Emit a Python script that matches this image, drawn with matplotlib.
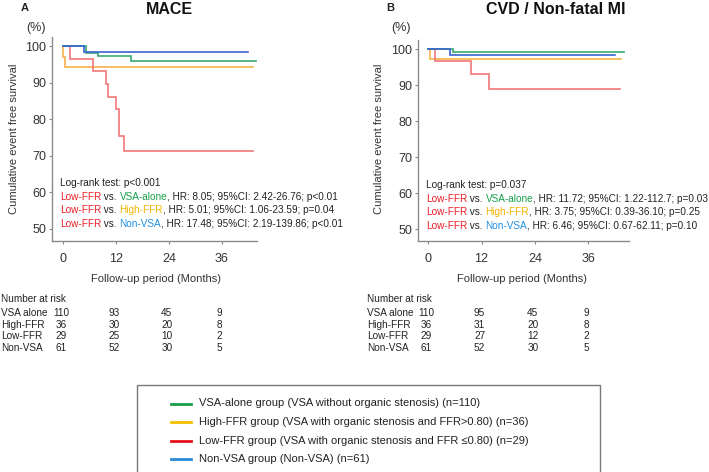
import matplotlib
matplotlib.use("Agg")
import matplotlib.pyplot as plt
import matplotlib.transforms as mtransforms
from matplotlib.patches import Rectangle
from matplotlib.lines import Line2D

plt.rcParams['font.family'] = ['Liberation Sans', 'DejaVu Sans']

# ---------------- data ----------------
groups = ["VSA-alone", "High-FFR", "Low-FFR", "Non-VSA"]
risk_labels = ["VSA alone", "High-FFR", "Low-FFR", "Non-VSA"]
risk_times = [0, 12, 24, 36]
x_ticks = [0, 12, 24, 36]
y_ticks = [50, 60, 70, 80, 90, 100]

# Panel A: MACE (time in months, survival in %)
mace_t_vsa = [0, 5.2, 7.9, 15.5, 43.8]
mace_s_vsa = [100, 98.2, 97.3, 95.9, 95.9]
mace_t_high = [0, 0.1, 0.4, 43.0]
mace_s_high = [100, 97.1, 94.4, 94.4]
mace_t_low = [0, 1.6, 6.7, 9.7, 10.1, 12.1, 12.7, 13.8, 43.0]
mace_s_low = [100, 96.5, 93.1, 89.7, 86.2, 82.8, 75.5, 71.3, 71.3]
mace_t_non = [0, 4.8, 41.9]
mace_s_non = [100, 98.4, 98.4]

# Panel B: CVD / Non-fatal MI
cvd_t_vsa = [0, 5.5, 44.1]
cvd_s_vsa = [100, 99.1, 99.1]
cvd_t_high = [0, 0.5, 43.4]
cvd_s_high = [100, 97.2, 97.2]
cvd_t_low = [0, 1.6, 9.7, 13.7, 43.2]
cvd_s_low = [100, 96.6, 93.1, 88.9, 88.9]
cvd_t_non = [0, 4.9, 42.0]
cvd_s_non = [100, 98.4, 98.4]

mace_risk = [[110, 93, 45, 9], [36, 30, 20, 8], [29, 25, 10, 2], [61, 52, 30, 5]]
cvd_risk = [[110, 95, 45, 9], [36, 31, 20, 8], [29, 27, 12, 2], [61, 52, 30, 5]]

mace_logrank = "Log-rank test: p<0.001"
mace_stats = [("VSA-alone", ", HR: 8.05; 95%CI: 2.42-26.76; p<0.01"),
              ("High-FFR", ", HR: 5.01; 95%CI: 1.06-23.59; p=0.04"),
              ("Non-VSA", ", HR: 17.48; 95%CI: 2.19-139.86; p<0.01")]
cvd_logrank = "Log-rank test: p=0.037"
cvd_stats = [("VSA-alone", ", HR: 11.72; 95%CI: 1.22-112.7; p=0.03"),
             ("High-FFR", ", HR: 3.75; 95%CI: 0.39-36.10; p=0.25"),
             ("Non-VSA", ", HR: 6.46; 95%CI: 0.67-62.11; p=0.10")]

legend_labels = ["VSA-alone group (VSA without organic stenosis) (n=110)",
                 "High-FFR group (VSA with organic stenosis and FFR>0.80) (n=36)",
                 "Low-FFR group (VSA with organic stenosis and FFR \u22640.80) (n=29)",
                 "Non-VSA group (Non-VSA) (n=61)"]

# ---------------- styles ----------------
line_col = {"VSA-alone": "#3aaa72", "High-FFR": "#f7b24a", "Low-FFR": "#f07878", "Non-VSA": "#3b64d0"}
text_col = {"VSA-alone": "#17a04c", "High-FFR": "#f2b400", "Low-FFR": "#ee1c25", "Non-VSA": "#1f8fe0"}
leg_col = ["#1a9e4a", "#f5c000", "#e8101a", "#2a8ad8"]
spine_col = "#8a8a8a"
txt = "#222222"

W, H = 709, 472
fig = plt.figure(figsize=(W / 100, H / 100), dpi=100)


def fx(px):
    return px / W


def fy(py):
    return 1 - py / H


def panel(left, right, top, xlim, curves, letter, letter_x, title, title_x,
          pct_x, ylab_x, ann_x, ann_y, logrank, stats, xlab_x, risk, risk_lab_x):
    ax = fig.add_axes([fx(left), fy(241), fx(right - left), (241 - top) / H])
    for g in ["High-FFR", "Low-FFR", "VSA-alone", "Non-VSA"]:
        t, s = curves[g]
        ax.plot(t, s, drawstyle="steps-post", color=line_col[g], lw=1.2, solid_joinstyle="miter")
    ax.set_xlim(*xlim)
    ax.set_ylim(46.7, 102.5)
    ax.set_xticks(x_ticks)
    ax.set_yticks(y_ticks)
    for sp in ["top", "right"]:
        ax.spines[sp].set_visible(False)
    for sp in ["left", "bottom"]:
        ax.spines[sp].set_color(spine_col)
        ax.spines[sp].set_linewidth(1.0)
    ax.tick_params(direction="out", length=2.5, width=0.8, color=spine_col,
                   labelsize=9, labelcolor="#333333")
    ax.tick_params(axis="y", pad=1.5)
    ax.tick_params(axis="x", pad=6)
    fig.text(fx(letter_x), fy(8), letter, fontsize=8, fontweight="bold", ha="center", va="center", color=txt)
    fig.text(fx(title_x), fy(9), title, fontsize=11.5, fontweight="bold", ha="center", va="center", color="#111111")
    fig.text(fx(pct_x), fy(28), "(%)", fontsize=9, ha="center", va="center", color="#333333")
    fig.text(fx(ylab_x), fy(139), "Cumulative event free survival", fontsize=8, rotation=90,
             ha="center", va="center", color="#333333")
    fig.text(fx(xlab_x), fy(279), "Follow-up period (Months)", fontsize=8, ha="center", va="center", color="#333333")
    fs = 7.2
    fig.text(fx(ann_x), fy(ann_y), logrank, fontsize=fs, ha="left", va="center", color=txt)
    for i, (other, rest) in enumerate(stats):
        ypx = ann_y + 13.7 * (i + 1)
        parts = [("Low-FFR", text_col["Low-FFR"]), (" vs. ", txt), (other, text_col[other]), (rest, txt)]
        prev = fig.text(fx(ann_x), fy(ypx), parts[0][0], fontsize=fs, ha="left", va="center", color=parts[0][1])
        for s, c in parts[1:]:
            prev = ax.annotate(s, xy=(1, 0), xycoords=prev, xytext=(0, 0), textcoords="offset points",
                               ha="left", va="bottom", fontsize=fs, color=c, annotation_clip=False)
    fig.text(fx(risk_lab_x), fy(299), "Number at risk", fontsize=7.2, ha="left", va="center", color=txt)
    trans = mtransforms.blended_transform_factory(ax.transData, fig.transFigure) + \
        mtransforms.ScaledTranslation(-2 / 100, 0, fig.dpi_scale_trans)
    for r, (lab, row) in enumerate(zip(risk_labels, risk)):
        yy = fy(313 + 11.7 * r)
        fig.text(fx(risk_lab_x), yy, lab, fontsize=7.2, ha="left", va="center", color=txt)
        for tm, v in zip(risk_times, row):
            fig.text(tm, yy, str(v), fontsize=7.2, ha="center", va="center", color=txt, transform=trans)
    return ax


panel(52, 257, 37, (-2.5, 44.0),
      {"VSA-alone": (mace_t_vsa, mace_s_vsa), "High-FFR": (mace_t_high, mace_s_high),
       "Low-FFR": (mace_t_low, mace_s_low), "Non-VSA": (mace_t_non, mace_s_non)},
      "A", 25, "MACE", 169.5, 36, 14, 60, 183, mace_logrank, mace_stats, 156, mace_risk, 1)

panel(418, 629, 40, (-2.3, 45.2),
      {"VSA-alone": (cvd_t_vsa, cvd_s_vsa), "High-FFR": (cvd_t_high, cvd_s_high),
       "Low-FFR": (cvd_t_low, cvd_s_low), "Non-VSA": (cvd_t_non, cvd_s_non)},
      "B", 390, "CVD / Non-fatal MI", 556, 400.5, 379, 426, 185, cvd_logrank, cvd_stats, 521.7, cvd_risk, 367)

# legend box
fig.patches.append(Rectangle((fx(137), -0.02), fx(600 - 137), fy(385) + 0.02,
                             transform=fig.transFigure, fill=False, edgecolor="#7a7a7a", lw=1.0))
for i, (lab, c) in enumerate(zip(legend_labels, leg_col)):
    yy = fy(403.5 + 18.6 * i)
    fig.lines.append(Line2D([fx(171), fx(191)], [yy, yy], transform=fig.transFigure, color=c, lw=2))
    fig.text(fx(199), yy, lab, fontsize=8.0, ha="left", va="center", color=txt)

fig.savefig("out.png", dpi=100)
